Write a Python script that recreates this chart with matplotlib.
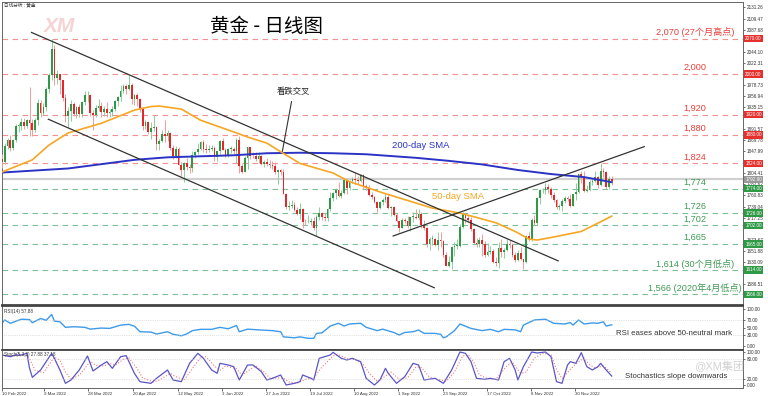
import numpy as np
import matplotlib
matplotlib.use("Agg")
import matplotlib.pyplot as plt
import matplotlib.transforms as mtransforms

plt.rcParams['font.family'] = ['Liberation Sans', 'Noto Sans CJK SC', 'DejaVu Sans']

# daily XAU/USD candles, 10 Feb 2022 .. 19 Dec 2022, x = bar number
first_open = 1833
closes = [
    1827, 1859, 1870, 1855, 1870, 1898, 1898, 1906, 1898, 1910, 1903, 1889, 1909,  # feb
    1943, 1923, 1936, 1970, 1998, 2050, 1993, 2000, 1988, 1952, 1918, 1928, 1942, 1921, 1935, 1921, 1944, 1958, 1958, 1923, 1919, 1933, 1937,  # mar
    1925, 1932, 1923, 1925, 1931, 1946, 1954, 1966, 1977, 1971, 1979, 1950, 1958, 1951, 1932, 1898, 1905, 1886, 1894, 1896,  # apr
    1863, 1868, 1881, 1877, 1883, 1854, 1838, 1852, 1821, 1811, 1824, 1816, 1815, 1841, 1846, 1853, 1866, 1853, 1850, 1853, 1855, 1837,  # may
    1848, 1868, 1851, 1841, 1852, 1853, 1848, 1871, 1819, 1808, 1835, 1857, 1839, 1838, 1832, 1838, 1822, 1827, 1823, 1820, 1818, 1807,  # jun
    1811, 1808, 1764, 1739, 1740, 1742, 1733, 1725, 1735, 1709, 1708, 1709, 1711, 1696, 1718, 1727, 1719, 1717, 1734, 1755, 1766,  # jul
    1772, 1760, 1765, 1791, 1775, 1789, 1794, 1792, 1789, 1802, 1779, 1775, 1761, 1758, 1747, 1736, 1748, 1751, 1758, 1737, 1738, 1723, 1711,  # aug
    1697, 1712, 1710, 1701, 1718, 1719, 1717, 1724, 1702, 1697, 1665, 1675, 1675, 1664, 1673, 1671, 1643, 1622, 1629, 1660, 1661, 1661,  # sep
    1699, 1725, 1716, 1712, 1695, 1668, 1666, 1673, 1666, 1644, 1650, 1652, 1629, 1627, 1657, 1649, 1653, 1665, 1663, 1644, 1633,  # oct
    1647, 1635, 1630, 1681, 1676, 1712, 1706, 1755, 1771, 1771, 1777, 1774, 1761, 1751, 1738, 1740, 1750, 1755, 1754, 1741, 1763, 1768,  # nov
    1803, 1797, 1769, 1771, 1787, 1789, 1797, 1781, 1810, 1807, 1777, 1793, 1790,  # dec
]
highs = [
    1842, 1865, 1874, 1880, 1873, 1902, 1903, 1913, 1914, 1911, 1974, 1911, 1914,
    1950, 1949, 1943, 1974, 2002, 2070, 2058, 2009, 2000, 1989, 1961, 1935, 1949, 1945, 1938, 1942, 1946, 1966, 1966, 1960, 1930, 1939, 1950,
    1945, 1937, 1945, 1931, 1937, 1949, 1957, 1978, 1981, 1980, 1998, 1983, 1961, 1962, 1953, 1936, 1910, 1907, 1905, 1920,
    1898, 1873, 1890, 1909, 1890, 1885, 1860, 1859, 1857, 1826, 1826, 1835, 1823, 1849, 1849, 1865, 1869, 1870, 1862, 1860, 1860, 1858,
    1849, 1870, 1874, 1855, 1855, 1858, 1857, 1875, 1877, 1822, 1838, 1857, 1857, 1846, 1847, 1847, 1840, 1831, 1834, 1830, 1829, 1826,
    1813, 1813, 1813, 1766, 1749, 1752, 1747, 1738, 1745, 1737, 1714, 1723, 1716, 1719, 1723, 1739, 1729, 1726, 1737, 1767, 1767,
    1775, 1788, 1771, 1793, 1792, 1791, 1798, 1807, 1800, 1804, 1804, 1783, 1781, 1767, 1760, 1749, 1750, 1756, 1765, 1764, 1741, 1740, 1727,
    1711, 1717, 1716, 1720, 1719, 1728, 1735, 1735, 1729, 1712, 1699, 1678, 1682, 1677, 1688, 1688, 1673, 1649, 1642, 1661, 1669, 1675,
    1705, 1729, 1727, 1723, 1718, 1697, 1677, 1679, 1684, 1672, 1667, 1662, 1656, 1639, 1669, 1675, 1658, 1675, 1674, 1667, 1650,
    1653, 1659, 1636, 1683, 1688, 1717, 1723, 1758, 1773, 1775, 1786, 1784, 1778, 1768, 1754, 1744, 1754, 1760, 1759, 1764, 1764, 1786,
    1804, 1810, 1809, 1782, 1791, 1794, 1810, 1799, 1825, 1814, 1809, 1799, 1800,
]
lows = [
    1815, 1822, 1852, 1849, 1850, 1867, 1886, 1890, 1891, 1893, 1878, 1878, 1885,
    1900, 1916, 1920, 1928, 1963, 1989, 1978, 1980, 1961, 1946, 1906, 1895, 1908, 1917, 1914, 1915, 1916, 1940, 1945, 1918, 1889, 1916, 1928,
    1916, 1917, 1915, 1915, 1918, 1928, 1937, 1947, 1962, 1960, 1969, 1941, 1940, 1938, 1926, 1890, 1891, 1881, 1872, 1888,
    1850, 1850, 1866, 1866, 1868, 1850, 1832, 1835, 1820, 1799, 1787, 1811, 1806, 1807, 1834, 1842, 1850, 1847, 1844, 1846, 1848, 1829,
    1828, 1842, 1850, 1836, 1837, 1844, 1843, 1825, 1805, 1805, 1807, 1812, 1833, 1834, 1829, 1825, 1820, 1817, 1819, 1815, 1813, 1804,
    1784, 1802, 1763, 1735, 1732, 1737, 1730, 1722, 1714, 1697, 1702, 1706, 1702, 1693, 1680, 1712, 1712, 1711, 1711, 1730, 1750,
    1754, 1758, 1755, 1763, 1764, 1771, 1785, 1783, 1783, 1787, 1773, 1771, 1759, 1753, 1745, 1728, 1734, 1743, 1748, 1734, 1720, 1721, 1709,
    1688, 1696, 1707, 1697, 1691, 1708, 1714, 1712, 1697, 1693, 1660, 1654, 1663, 1662, 1654, 1660, 1639, 1621, 1620, 1615, 1641, 1655,
    1659, 1697, 1707, 1708, 1690, 1666, 1659, 1659, 1642, 1640, 1642, 1645, 1627, 1621, 1618, 1639, 1638, 1651, 1658, 1639, 1630,
    1632, 1634, 1616, 1628, 1672, 1672, 1702, 1702, 1744, 1765, 1764, 1765, 1755, 1747, 1735, 1733, 1730, 1746, 1749, 1739, 1740, 1751,
    1766, 1786, 1767, 1767, 1769, 1781, 1787, 1775, 1779, 1798, 1773, 1774, 1782,
]
last_price = 1792.90

# moving averages (bar, price)
sma50_x = [0, 11, 17, 24, 36, 48, 54, 57, 65, 72, 84, 89, 96, 101, 108, 120, 126, 138, 150, 156, 166, 171, 179, 186, 191, 194, 200, 210, 217, 221]
sma50_y = [1807, 1831, 1860, 1884, 1903, 1929, 1936, 1937, 1931, 1909, 1886, 1876, 1864, 1847, 1824, 1805, 1788, 1766, 1746, 1736, 1726, 1719, 1707, 1690, 1675, 1673, 1679, 1690, 1709, 1720]
sma200_x = [0, 24, 48, 60, 84, 96, 108, 120, 132, 150, 162, 174, 187, 199, 211, 221]
sma200_y = [1806, 1814, 1831, 1836, 1840, 1844, 1845, 1844, 1842, 1835, 1829, 1822, 1811, 1803, 1797, 1787]

# trend lines
upper_x, upper_y = [10.7, 201.6], [2082, 1632]
lower_x, lower_y = [16.8, 156.7], [1911, 1579]
rising_x, rising_y = [141.8, 232.8], [1681, 1857]

res_levels = [2070, 2000, 1920, 1880, 1824]
res_labels = ['2,070 (27个月高点)', '2,000', '1,920', '1,880', '1,824']
sup_levels = [1774, 1726, 1702, 1665, 1614, 1566]
sup_labels = ['1,774', '1,726', '1,702', '1,665', '1,614 (30个月低点)', '1,566 (2020年4月低点)']

rsi_x = [0, 1, 3, 7, 10, 11, 14, 16, 18, 19, 21, 23, 26, 30, 32, 36, 39, 43, 46, 48, 50, 54, 56, 60, 62, 65, 67, 69, 72, 76,
         79, 82, 85, 86, 89, 94, 98, 101, 102, 106, 108, 111, 113, 114, 116, 119, 122, 124, 126, 130, 132, 136, 138, 142, 144,
         146, 149, 151, 153, 157, 159, 160, 161, 164, 166, 170, 174, 177, 180, 182, 186, 188, 189, 193, 197, 200, 204, 206,
         207, 209, 211, 214, 216, 218, 219, 221]
rsi_y = [62, 71, 62, 73, 72, 63.5, 75, 70, 86, 68, 66, 51, 52.6, 51, 46, 49, 48, 57, 59, 54, 39, 38, 32.7, 39, 32, 28, 33, 42, 45.5, 45.5,
         51, 47, 56, 39, 46, 43.6, 42, 39, 25, 22.5, 25, 21, 21, 34.5, 36, 54.5, 62, 54.5, 60, 62, 51, 42, 46, 37, 30,
         37, 39, 43.6, 34.5, 34.5, 32, 22.6, 25, 41.8, 60, 48, 42, 45.5, 39, 45.5, 44, 39, 57, 71, 73, 62, 60, 64,
         57, 71, 60, 63, 62, 66, 54.5, 57.88]

stk_x = [0, 3, 5, 7, 9, 10, 11, 14, 18, 19, 21, 23, 25, 28, 31, 33, 36, 38, 40, 43, 45, 48, 50, 54, 56, 60, 62, 65, 68, 71,
         73, 76, 78, 79, 82, 84, 86, 89, 91, 94, 96, 98, 101, 103, 106, 108, 109, 112, 113, 115, 119, 120, 123, 125, 127, 130,
         132, 135, 137, 139, 140, 143, 146, 149, 151, 153, 157, 160, 163, 166, 168, 170, 172, 175, 177, 180, 182, 184, 186,
         187, 189, 192, 194, 197, 199, 201, 203, 205, 206, 208, 210, 212, 214, 216, 217, 219, 221]
stk_y = [91, 86, 91, 91, 96, 51, 24, 46, 96, 81, 46, 6, 16, 46, 88, 43, 61, 71, 51, 86, 89, 36, 11, 6, 21, 46, 16, 11, 66, 96,
         81, 46, 36, 66, 61, 56, 16, 61, 61, 41, 16, 21, 31, 1, 6, 11, 31, 21, 16, 81, 91, 99, 81, 76, 81, 71,
         21, 1, 16, 51, 36, 6, 26, 66, 61, 16, 21, 6, 46, 100, 96, 71, 21, 18, 21, 16, 71, 81, 46,
         16, 56, 100, 97, 100, 86, 11, 6, 61, 71, 66, 98, 56, 46, 56, 66, 46, 27.88]
std_x = [0, 4, 8, 10, 12, 15, 19, 21, 23, 25, 28, 32, 34, 37, 39, 41, 44, 46, 49, 51, 55, 57, 61, 63, 66, 69, 72, 74, 77, 79,
         81, 85, 87, 90, 92, 95, 97, 99, 102, 104, 107, 110, 113, 116, 120, 122, 125, 128, 131, 133, 136, 138, 141, 144, 147,
         150, 152, 155, 158, 161, 164, 167, 169, 171, 173, 176, 179, 183, 185, 188, 190, 193, 196, 199, 201, 203, 206, 208,
         211, 213, 215, 218, 221]
std_y = [88, 88, 92, 80, 45, 38, 85, 75, 40, 18, 30, 72, 60, 58, 66, 60, 78, 82, 50, 22, 10, 16, 36, 26, 16, 50, 84, 86, 58, 45,
         58, 50, 30, 48, 58, 40, 22, 22, 22, 10, 6, 18, 22, 55, 88, 92, 80, 78, 62, 38, 12, 22, 40, 18, 22,
         55, 54, 24, 18, 12, 40, 88, 92, 70, 32, 20, 18, 58, 70, 36, 40, 82, 96, 92, 48, 20, 48, 64,
         82, 62, 52, 58, 37.18]

date_ticks = [0, 15.4, 31.3, 47.6, 63.7, 79.7, 95.7, 111.7, 127.7, 143.6, 159.7, 175.9, 191.7, 207.6]
date_labels = ['10 Feb 2022', '9 Mar 2022', '28 Mar 2022', '20 Apr 2022', '12 May 2022', '3 Jun 2022', '27 Jun 2022',
               '19 Jul 2022', '10 Aug 2022', '1 Sep 2022', '23 Sep 2022', '17 Oct 2022', '8 Nov 2022', '30 Nov 2022']

W, H = 768, 396


def box(x0, y0, x1, y1):
    return [x0 / W, 1 - y1 / H, (x1 - x0) / W, (y1 - y0) / H]


fig = plt.figure(figsize=(7.68, 3.96), dpi=100)
ax = fig.add_axes(box(2, 2, 743, 305))
ax_rsi = fig.add_axes(box(2, 306, 743, 349), sharex=ax)
ax_st = fig.add_axes(box(2, 350, 743, 388), sharex=ax)

# candles
c = np.array(closes, float)
o = np.r_[first_open, c[:-1]]
hi = np.maximum(np.array(highs, float), np.maximum(o, c))
lo = np.minimum(np.array(lows, float), np.minimum(o, c))
x = np.arange(len(c))
up = c >= o
ax.vlines(x, lo, hi, colors=np.where(up, '#8ccf9b', '#f19b9b'), lw=0.7, zorder=3)
ax.bar(x, np.maximum(np.abs(c - o), 1.5), bottom=np.minimum(o, c), width=0.62,
       color=np.where(up, '#2f9a46', '#e2262b'), linewidth=0, zorder=4)

trans = mtransforms.blended_transform_factory(ax.transAxes, ax.transData)
for lv, lab in zip(res_levels, res_labels):
    ax.axhline(lv, color='#f29191', lw=0.8, ls=(0, (5, 4)), zorder=1)
    ax.annotate(lab, xy=(0.935, lv), xycoords=trans, xytext=(0, 4.6), textcoords='offset points',
                ha='center', va='center', color='#e5403a', fontsize=6.6)
    ax.text(1.003, lv, '%.2f' % lv, transform=trans, fontsize=3.3, color='white', va='center', ha='left',
            bbox=dict(boxstyle='square,pad=0.25', fc='#e5302c', ec='none'), clip_on=False, zorder=6)
for lv, lab in zip(sup_levels, sup_labels):
    ax.axhline(lv, color='#7dbf95', lw=0.8, ls=(0, (5, 4)), zorder=1)
    ax.annotate(lab, xy=(0.935, lv), xycoords=trans, xytext=(0, 4.6), textcoords='offset points',
                ha='center', va='center', color='#3f9a55', fontsize=6.6)
    ax.text(1.003, lv, '%.2f' % lv, transform=trans, fontsize=3.3, color='white', va='center', ha='left',
            bbox=dict(boxstyle='square,pad=0.25', fc='#2f9a46', ec='none'), clip_on=False, zorder=6)

ax.axhline(last_price, color='#d0d0d0', lw=1.6, zorder=1)
ax.text(1.003, last_price, '%.2f' % last_price, transform=trans, fontsize=3.3, color='white', va='center',
        ha='left', bbox=dict(boxstyle='square,pad=0.25', fc='#9a9a9a', ec='none'), clip_on=False, zorder=6)

ax.plot(sma200_x, sma200_y, color='#2a33c4', lw=1.4, zorder=5)
ax.plot(sma50_x, sma50_y, color='#f5a623', lw=1.2, zorder=5)
for tx, ty in [(upper_x, upper_y), (lower_x, lower_y), (rising_x, rising_y)]:
    ax.plot(tx, ty, color='#333333', lw=0.9, zorder=5)

ax.text(141.5, 1859, '200-day SMA', color='#2a33c4', fontsize=6.8, va='center')
ax.text(155.9, 1758, '50-day SMA', color='#f5a623', fontsize=6.8, va='center')
ax.annotate('看跌交叉', xy=(101.6, 1847), xytext=(105.6, 1965), ha='center', va='center', fontsize=6,
            color='#222222', arrowprops=dict(arrowstyle='-', color='#333333', lw=0.8, shrinkB=0))

fig.text(266 / W, 1 - 27 / H, '黄金 - 日线图', fontsize=14, ha='center', va='center',
         family=['Noto Sans CJK SC'])
fig.text(4 / W, 1 - 5 / H, '日线分析 : 黄金', fontsize=3.3, va='center', color='#333333')
fig.text(44 / W, 1 - 26 / H, 'XM', fontsize=15, fontweight='bold', fontstyle='italic', color='#f6d3d3',
         va='center')

# price scale; the ticks that sit under a level box are hidden by it, as in the terminal
boxed = res_levels + sup_levels + [last_price]
pticks = [v for v in np.arange(1586.51, 2140, 21.79) if min(abs(v - b) for b in boxed) > 7.5]
ax.set_ylim(1545, 2142)
ax.set_yticks(pticks)
ax.set_yticklabels(['%.2f' % v for v in pticks])

# RSI
ax_rsi.plot(rsi_x, rsi_y, color='#3d9be9', lw=1.0)
for g in (70, 30):
    ax_rsi.axhline(g, color='#c8c8c8', lw=0.5, ls=':')
ax_rsi.set_ylim(-8, 109)
ax_rsi.set_yticks([0, 30, 50, 70, 100])
ax_rsi.set_yticklabels(['0.00', '30.00', '50.00', '70.00', '100.00'])
ax_rsi.text(0.003, 0.88, 'RSI(14) 57.88', transform=ax_rsi.transAxes, fontsize=3.3, color='#333333', va='center')
ax_rsi.text(0.907, 0.35, 'RSI eases above 50-neutral mark', transform=ax_rsi.transAxes, fontsize=5.6,
            color='#333333', ha='center', va='center')

# stochastics
ax_st.plot(std_x, std_y, color='#f07878', lw=0.8, ls=':')
ax_st.plot(stk_x, stk_y, color='#5a55c8', lw=0.9)
for g in (80, 20):
    ax_st.axhline(g, color='#c8c8c8', lw=0.5, ls=':')
ax_st.set_ylim(-8, 106)
ax_st.set_yticks([0, 20, 80, 100])
ax_st.set_yticklabels(['0.00', '20.00', '80.00', '100.00'])
ax_st.text(0.003, 0.88, 'Stoch(5,3,3) 27.88 37.18', transform=ax_st.transAxes, fontsize=3.3,
           color='#333333', va='center')
ax_st.text(0.910, 0.29, 'Stochastics slope downwards', transform=ax_st.transAxes, fontsize=5.6,
           color='#333333', ha='center', va='center')
fig.text(719 / W, 1 - 367 / H, '@XM集团', color='#d2d2d2', fontsize=8, ha='center', va='center')

ax.set_xlim(0.15, 268.6)
ax_st.set_xticks(date_ticks)
ax_st.set_xticklabels(date_labels, ha='left')

for a in (ax, ax_rsi, ax_st):
    a.yaxis.tick_right()
    a.tick_params(axis='y', labelsize=3.3, length=1.5, width=0.5, pad=1, colors='#333333')
    a.tick_params(axis='x', labelsize=3.2, length=2, width=0.5, pad=1, colors='#333333')
    for s in a.spines.values():
        s.set_color('#666666')
        s.set_linewidth(0.7)
    a.set_facecolor('white')
ax.tick_params(axis='x', bottom=False, labelbottom=False)
ax_rsi.tick_params(axis='x', bottom=False, labelbottom=False)
ax.spines['bottom'].set_linewidth(1.3)
ax.spines['bottom'].set_color('#444444')
for a in (ax_rsi, ax_st):
    a.spines['top'].set_linewidth(1.3)
    a.spines['top'].set_color('#444444')

fig.savefig('out.png', dpi=100)
